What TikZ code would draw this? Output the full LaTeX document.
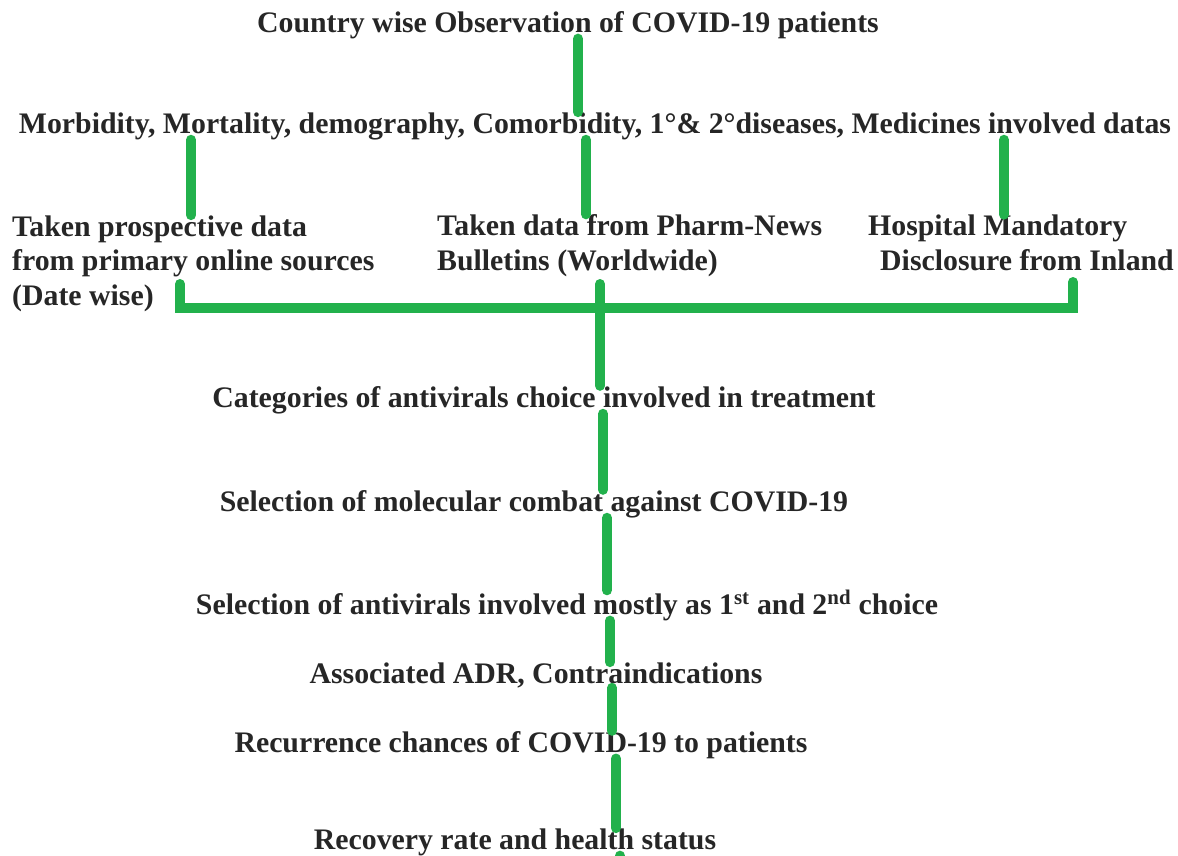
\documentclass[tikz,border=0pt]{standalone}
\usepackage{fontspec}
\setmainfont{Liberation Serif}
\usepackage{tikz}
\definecolor{pgreen}{HTML}{22B14C}
\definecolor{ptext}{HTML}{262626}

\begin{document}
\begin{tikzpicture}[x=1pt, y=-1pt,
  flow/.style={font=\fontsize{29.8}{34.5}\selectfont\bfseries, text=ptext, inner sep=0pt, anchor=base},
  block/.style={flow, align=left, anchor=base west},
  link/.style={draw=pgreen, line width=10pt, line cap=round}]
  \useasboundingbox (0,0) rectangle (1178,855);
  % text
  \node[flow] (obs) at (568,32) {Country wise Observation of COVID-19 patients};
  \node[flow] (morb) at (595,133) {Morbidity, Mortality, demography, Comorbidity, 1°\& 2°diseases, Medicines involved datas};
  \node[block] (prim) at (12,305) {Taken prospective data\\from primary online sources\\(Date wise)};
  \node[block] (news) at (437,270) {Taken data from Pharm-News\\Bulletins (Worldwide)};
  \node[block] (hosp) at (868,270) {Hospital Mandatory\\\hspace*{12pt}Disclosure from Inland};
  \node[flow] (cat) at (544,407) {Categories of antivirals choice involved in treatment};
  \node[flow] (mol) at (534,511) {Selection of molecular combat against COVID-19};
  \node[flow] (anti) at (567,614) {Selection of antivirals involved mostly as 1\textsuperscript{st} and 2\textsuperscript{nd} choice};
  \node[flow] (adr) at (536,683) {Associated ADR, Contraindications};
  \node[flow] (recur) at (521,752) {Recurrence chances of COVID-19 to patients};
  \node[flow] (recov) at (515,849) {Recovery rate and health status};
  % bracket ends
  \coordinate (brL) at (180,284);
  \coordinate (brR) at (1073,282);
  \coordinate (brM) at (600,284);
  \coordinate (tail) at (620,860);
  % connectors
  \draw[link] ([xshift=10pt]obs.south) -- ([xshift=10pt]obs.south |- morb.north);
  \draw[link] ([xshift=-404pt]morb.south) -- ([xshift=-404pt]morb.south |- prim.north);
  \draw[link] ([xshift=-9pt]morb.south) -- ([xshift=-9pt]morb.south |- news.north);
  \draw[link] ([xshift=409pt]morb.south) -- ([xshift=409pt]morb.south |- hosp.north);
  \draw[link] (brL) -- ++(0,24) -| (brR);
  \draw[link] (brM) -- (brM |- cat.north);
  \draw[link] ([xshift=59pt]cat.south) -- ([xshift=59pt]cat.south |- mol.north);
  \draw[link] ([xshift=73pt]mol.south) -- ([xshift=73pt]mol.south |- anti.north);
  \draw[link] ([xshift=43pt]anti.south) -- ([xshift=43pt]anti.south |- adr.north);
  \draw[link] ([xshift=76pt]adr.south) -- ([xshift=76pt]adr.south |- recur.north);
  \draw[link] ([xshift=95pt]recur.south) -- ([xshift=95pt]recur.south |- recov.north);
  \draw[link] ([xshift=105pt]recov.south) -- (tail);
\end{tikzpicture}
\end{document}
